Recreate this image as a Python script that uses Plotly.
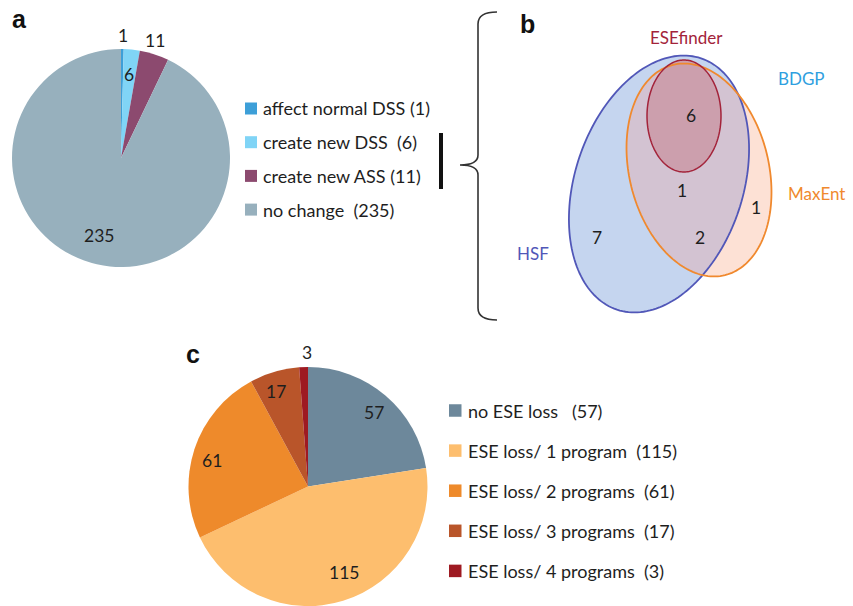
import math
import plotly.graph_objects as go

W, H = 853, 606

# ---------------- data ----------------
# panel a
a_labels = ["affect normal DSS", "create new DSS", "create new ASS", "no change"]
a_values = [1, 6, 11, 235]
a_legend = ["affect normal DSS (1)", "create new DSS\u00a0\u00a0(6)",
            "create new ASS (11)", "no change\u00a0\u00a0(235)"]
a_colors = ["#3d9fd8", "#80d4f6", "#8c4a6f", "#97b0bd"]

# panel b (Venn)
venn_sets = ["HSF", "MaxEnt", "ESEfinder", "BDGP"]
venn_region_names = ["ESEfinder", "HSF & MaxEnt (centre)", "MaxEnt only", "HSF only", "HSF & MaxEnt"]
venn_region_counts = [6, 1, 1, 7, 2]

# panel c
c_labels = ["no ESE loss", "ESE loss/ 1 program", "ESE loss/ 2 programs",
            "ESE loss/ 3 programs", "ESE loss/ 4 programs"]
c_values = [57, 115, 61, 17, 3]
c_legend = ["no ESE loss\u00a0\u00a0\u00a0(57)", "ESE loss/ 1 program\u00a0\u00a0(115)",
            "ESE loss/ 2 programs\u00a0\u00a0(61)", "ESE loss/ 3 programs\u00a0\u00a0(17)",
            "ESE loss/ 4 programs\u00a0\u00a0(3)"]
c_colors = ["#6d889b", "#fdbe6e", "#ee8a2b", "#b9552a", "#9e1a22"]

FONT = "Lato"
TXT = "#1e1e1e"


def px(x):
    return x / W


def py(y):
    return 1 - y / H


fig = go.Figure()
annotations = []
shapes = []


def add_pie(labels, values, colors, center, R):
    fig.add_trace(go.Pie(
        labels=labels, values=values, sort=False, direction="clockwise", rotation=0,
        marker=dict(colors=colors, line=dict(width=0)), textinfo="none",
        hoverinfo="label+value", showlegend=False,
        domain=dict(x=[px(center[0] - R), px(center[0] + R)],
                    y=[max(0, py(center[1] + R)), py(center[1] - R)])))


def pie_value_labels(values, center, R, fracs, nudges, size):
    total = sum(values)
    cum = 0
    for v, f, n in zip(values, fracs, nudges):
        mid = (cum + v / 2) / total * 360 + n
        cum += v
        t = math.radians(mid)
        x = center[0] + f * R * math.sin(t)
        y = center[1] - f * R * math.cos(t)
        annotations.append(dict(x=px(x), y=py(y), xref="paper", yref="paper",
                                text=str(v), showarrow=False, xanchor="center", yanchor="middle",
                                font=dict(family=FONT, size=size, color=TXT)))


def manual_legend(texts, colors, box_x, text_x, y0, dy, box, size):
    for i, (t, c) in enumerate(zip(texts, colors)):
        yc = y0 + i * dy
        shapes.append(dict(type="rect", xref="paper", yref="paper",
                           x0=px(box_x), x1=px(box_x + box),
                           y0=py(yc + box / 2), y1=py(yc - box / 2),
                           fillcolor=c, line=dict(width=0)))
        annotations.append(dict(x=px(text_x), y=py(yc), xref="paper", yref="paper",
                                text=t, showarrow=False, xanchor="left", yanchor="middle",
                                font=dict(family=FONT, size=size, color=TXT)))


# ---------------- panel a ----------------
A_C, A_R = (121, 158), 109
add_pie(a_labels, a_values, a_colors, A_C, A_R)
pie_value_labels(a_values, A_C, A_R, [1.12, 0.77, 1.12, 0.74], [0, 0, -1.6, 3], 17.5)
manual_legend(a_legend, a_colors, 245, 261, 108.5, 33.7, 12, 18)

# black bar next to legend
shapes.append(dict(type="line", xref="paper", yref="paper", x0=px(441), x1=px(441),
                   y0=py(133), y1=py(189), line=dict(color="#111111", width=4)))

# curly brace
brace = [("M", 497, 12), ("Q", 478, 12, 478, 24), ("L", 478, 155), ("Q", 478, 165, 460, 165),
         ("Q", 478, 165, 478, 175), ("L", 478, 308), ("Q", 478, 320, 497, 320)]
parts = []
for seg in brace:
    cmd = seg[0]
    coords = seg[1:]
    pts = []
    for k in range(0, len(coords), 2):
        pts.append(f"{px(coords[k]):.5f},{py(coords[k + 1]):.5f}")
    parts.append(cmd + " " + " ".join(pts))
shapes.append(dict(type="path", xref="paper", yref="paper", path=" ".join(parts),
                   line=dict(color="#333333", width=1.6)))


# ---------------- panel b (Venn) ----------------
def ellipse_pts(cx, cy, a, b, phi_deg, n=180):
    phi = math.radians(phi_deg)
    ux, uy = math.sin(phi), -math.cos(phi)
    vx, vy = math.cos(phi), math.sin(phi)
    pts = []
    for k in range(n):
        t = 2 * math.pi * k / n
        pts.append((cx + a * math.cos(t) * ux + b * math.sin(t) * vx,
                    cy + a * math.cos(t) * uy + b * math.sin(t) * vy))
    return pts


def inside(p, e):
    cx, cy, a, b, phi_deg = e
    phi = math.radians(phi_deg)
    dx, dy = p[0] - cx, p[1] - cy
    u = dx * math.sin(phi) - dy * math.cos(phi)
    v = dx * math.cos(phi) + dy * math.sin(phi)
    return (u / a) ** 2 + (v / b) ** 2 <= 1.0


def path_of(pts):
    s = "M " + " L ".join(f"{px(x):.5f},{py(y):.5f}" for x, y in pts) + " Z"
    return s


HSF_E = (659, 184, 132.5, 84, 18.5)
MAX_E = (699, 170, 108.3, 69.7, -13.9)
ESE_E = (684, 116, 56, 37, 0)

hsf_pts = ellipse_pts(*HSF_E)
max_pts = ellipse_pts(*MAX_E)
ese_pts = ellipse_pts(*ESE_E)

inter = [p for p in hsf_pts if inside(p, MAX_E)] + [p for p in max_pts if inside(p, HSF_E)]
mx = sum(p[0] for p in inter) / len(inter)
my = sum(p[1] for p in inter) / len(inter)
inter.sort(key=lambda p: math.atan2(p[1] - my, p[0] - mx))

shapes.append(dict(type="path", xref="paper", yref="paper", path=path_of(hsf_pts),
                   fillcolor="#c5d5ef", line=dict(width=0)))
shapes.append(dict(type="path", xref="paper", yref="paper", path=path_of(max_pts),
                   fillcolor="#fde1d5", line=dict(width=0)))
shapes.append(dict(type="path", xref="paper", yref="paper", path=path_of(inter),
                   fillcolor="#d3c3d2", line=dict(width=0)))
shapes.append(dict(type="path", xref="paper", yref="paper", path=path_of(ese_pts),
                   fillcolor="#cc9fad", line=dict(width=0)))
shapes.append(dict(type="path", xref="paper", yref="paper", path=path_of(hsf_pts),
                   line=dict(color="#5157b8", width=1.8)))
shapes.append(dict(type="path", xref="paper", yref="paper", path=path_of(max_pts),
                   line=dict(color="#f0892e", width=1.8)))
shapes.append(dict(type="path", xref="paper", yref="paper", path=path_of(ese_pts),
                   line=dict(color="#a3233a", width=1.5)))

venn_count_pos = [(691, 116), (682, 190), (756, 208), (597, 237), (700, 237)]
for cnt, (x, y) in zip(venn_region_counts, venn_count_pos):
    annotations.append(dict(x=px(x), y=py(y), xref="paper", yref="paper", text=str(cnt),
                            showarrow=False, xanchor="center", yanchor="middle",
                            font=dict(family=FONT, size=17.5, color=TXT)))

venn_label_pos = [(533, 253), (816, 193), (686, 37), (801, 78)]
venn_label_col = ["#5157b8", "#f0892e", "#a3233a", "#2f9fe0"]
for name, (x, y), col in zip(venn_sets, venn_label_pos, venn_label_col):
    annotations.append(dict(x=px(x), y=py(y), xref="paper", yref="paper", text=name,
                            showarrow=False, xanchor="center", yanchor="middle",
                            font=dict(family=FONT, size=17, color=col)))

# ---------------- panel c ----------------
C_C, C_R = (308, 486.5), 119.5
add_pie(c_labels, c_values, c_colors, C_C, C_R)
pie_value_labels(c_values, C_C, C_R, [0.83, 0.78, 0.83, 0.835, 1.125], [1.3, -5.5, -3.2, -2.3, 1.9], 17.5)
manual_legend(c_legend, c_colors, 449, 466, 410.5, 40.1, 12.5, 18)

# panel letters
for letter, (x, y) in zip(["a", "b", "c"], [(19, 19), (527, 24), (193, 354)]):
    annotations.append(dict(x=px(x), y=py(y), xref="paper", yref="paper", text=f"<b>{letter}</b>",
                            showarrow=False, xanchor="center", yanchor="middle",
                            font=dict(family="Liberation Sans", size=25, color="#111111")))

fig.update_layout(width=W, height=H, autosize=False,
                  margin=dict(l=0, r=0, t=0, b=0),
                  paper_bgcolor="white", plot_bgcolor="white",
                  shapes=shapes, annotations=annotations, showlegend=False)

fig.write_html("out.html", config={"displayModeBar": False},
               post_script="document.body.style.margin='0';document.body.style.overflow='hidden';")
